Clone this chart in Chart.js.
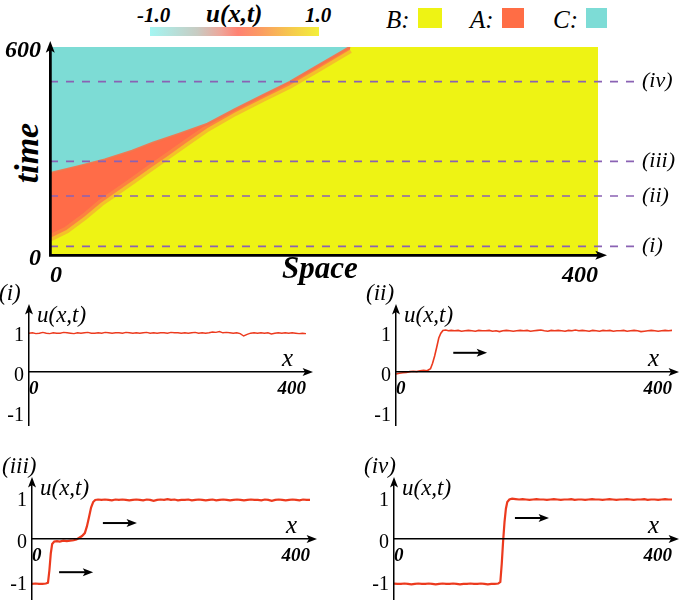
<!DOCTYPE html>
<html>
<head>
<meta charset="utf-8">
<script src="https://cdn.jsdelivr.net/npm/chart.js@4.4.1/dist/chart.umd.min.js"></script>
<style>
  body { margin: 0; background: #fff; }
  #page { position: relative; width: 685px; height: 600px; overflow: hidden; }
  canvas { position: absolute; }
  .txt { position: absolute; white-space: nowrap; line-height: 1; color: #000; font-family: "Liberation Serif", serif; }
  .sw { position: absolute; top: 8px; height: 20px; }
</style>
</head>
<body>
<div id="page">
  <!-- colour bar -->
  <div class="txt" style="left:137px;top:3px;font:bold italic 21px 'Liberation Serif'">-1.0</div>
  <div class="txt" style="left:206px;top:0px;font:bold italic 25px 'Liberation Serif'">u(x,t)</div>
  <div class="txt" style="left:305px;top:3px;font:bold italic 21px 'Liberation Serif'">1.0</div>
  <div style="position:absolute;left:150px;top:27px;width:169px;height:9px;background:linear-gradient(to right,#a4f6f2 0%,#c8cbc2 28%,#eea69a 42%,#ff8272 52%,#fb9d62 66%,#f6c64e 82%,#f3f03a 100%)"></div>

  <!-- region key -->
  <div class="txt" style="left:386px;top:6px;font:italic 25px 'Liberation Serif'">B:</div>
  <div class="sw" style="left:418px;width:24px;background:#eef314"></div>
  <div class="txt" style="left:470px;top:6px;font:italic 25px 'Liberation Serif'">A:</div>
  <div class="sw" style="left:502px;width:22px;background:#ff6d45"></div>
  <div class="txt" style="left:553px;top:6px;font:italic 25px 'Liberation Serif'">C:</div>
  <div class="sw" style="left:586px;width:21px;background:#7ddcd6"></div>

  <!-- vertical axis title of the space-time plot -->
  <div class="txt" style="left:-15px;top:136px;width:80px;height:34px;line-height:34px;text-align:center;transform:rotate(-90deg);font:bold italic 34px 'Liberation Serif'">time</div>

  <canvas id="p1" width="340" height="150" style="left:0px;top:280px"></canvas>
  <canvas id="p2" width="345" height="150" style="left:340px;top:280px"></canvas>
  <canvas id="p3" width="340" height="160" style="left:0px;top:440px"></canvas>
  <canvas id="p4" width="345" height="160" style="left:340px;top:440px"></canvas>
  <canvas id="heat" width="685" height="290" style="left:0px;top:0px"></canvas>
  <canvas id="heatAxes" width="685" height="290" style="left:0px;top:0px"></canvas>
</div>

<script>
// ---- space-time plot ----
const heatXTicks = [0, 400];
const heatTimeTicks = [0, 600];
// upper edge of state A / lower edge of state C
const cyanX = [0, 20, 40, 60, 75, 95, 115, 135, 155, 175, 195, 219];
const cyanT = [236, 255, 275, 300, 323, 350, 378, 420, 460, 499, 545, 600];
// lower edge of state A (front into state B)
const redX = [0, 12, 25, 37, 49, 61, 73, 85, 100, 115, 135, 155, 175, 195, 219];
const redT = [49, 72, 110, 150, 183, 216, 250, 283, 325, 366, 411, 451, 490, 536, 592];
const cutTimes = [25, 170, 270, 500];
const cutLabels = ["(i)", "(ii)", "(iii)", "(iv)"];

// ---- profiles ----
const profileUTicks = [-1, 0, 1];
const profileXTicks = [0, 400];

function range(a, b, step) {
  const out = [];
  for (let v = a; v <= b; v += step) out.push(v);
  return out;
}

const X_I = range(0, 400, 5);
const U_I = [0.97,0.98,0.96,0.97,0.99,0.97,0.96,0.98,0.97,0.97,0.99,0.98,0.97,0.96,0.98,0.97,0.98,0.99,0.97,0.97,
  0.98,0.97,0.99,0.98,0.97,0.98,0.98,0.97,0.99,0.98,0.97,0.98,0.97,0.98,0.99,0.97,0.98,0.97,0.98,0.98,
  0.97,0.99,0.98,0.98,0.97,0.98,0.97,0.98,0.99,0.97,0.98,0.97,0.98,1.00,0.99,1.01,0.98,0.99,0.98,0.97,
  0.98,0.96,0.90,0.94,0.97,0.98,0.97,0.98,0.97,0.98,0.95,0.97,0.98,0.97,0.98,0.97,0.98,0.97,0.96,0.97,0.96];

const X_II = range(0, 50, 5).concat([53, 56, 59, 62, 65, 68, 72, 76], range(80, 400, 5));
const U_II = [-0.05,-0.03,-0.02,-0.01,0.01,0.02,0.01,0.03,0.04,0.03,0.08,
  0.22,0.40,0.62,0.85,0.97,1.04,1.05,1.03,
  1.04,1.03,1.04,1.02,1.03,1.04,1.03,1.02,1.04,1.03,
  1.03,1.04,1.02,1.03,1.01,1.03,1.04,1.03,1.02,1.03,
  1.04,1.03,1.04,1.02,1.03,1.04,1.05,1.03,1.02,1.04,
  1.03,1.04,1.03,1.02,1.04,1.03,1.05,1.03,1.04,1.03,
  1.02,1.04,1.03,1.02,1.04,1.03,1.04,1.02,1.03,1.03,
  1.04,1.02,1.03,1.04,1.03,1.01,1.02,1.03,1.04,1.03,
  1.02,1.03,1.04,1.03,1.04];

const X_III = range(0, 20, 5).concat([23, 25, 27, 29, 32, 36, 40, 45, 50, 55, 60, 64, 68, 72, 76, 79, 82, 85, 88, 91, 95], range(100, 400, 5));
const U_III = [-1.07,-1.06,-1.07,-1.07,-1.06,-1.04,-0.75,-0.35,-0.12,-0.06,-0.05,-0.06,-0.04,-0.05,-0.04,-0.03,
  -0.01,0.03,0.07,0.14,0.30,0.52,0.75,0.88,0.93,0.94,
  0.93,0.94,0.93,0.92,0.94,0.93,0.94,0.93,0.92,0.93,
  0.94,0.93,0.92,0.94,0.93,0.91,0.93,0.94,0.93,0.95,
  0.93,0.94,0.92,0.93,0.93,0.94,0.92,0.93,0.94,0.93,
  0.92,0.93,0.94,0.92,0.93,0.94,0.93,0.92,0.93,0.94,
  0.93,0.92,0.93,0.94,0.93,0.93,0.92,0.94,0.93,0.91,
  0.93,0.94,0.93,0.92,0.93,0.94,0.93,0.92,0.94,0.93,0.93];

const X_IV = range(0, 150, 5).concat([153, 155, 157, 159, 161, 163, 166, 170], range(175, 400, 5));
const U_IV = [-1.06,-1.07,-1.07,-1.06,-1.07,-1.08,-1.07,-1.06,-1.07,-1.07,
  -1.06,-1.07,-1.08,-1.07,-1.06,-1.07,-1.07,-1.06,-1.07,-1.08,
  -1.07,-1.07,-1.06,-1.07,-1.07,-1.06,-1.07,-1.08,-1.07,-1.07,-1.06,
  -1.02,-0.60,-0.05,0.40,0.72,0.88,0.94,0.96,
  0.95,0.94,0.95,0.94,0.93,0.94,0.95,0.94,0.94,0.93,
  0.94,0.95,0.94,0.93,0.94,0.94,0.95,0.93,0.94,0.94,
  0.93,0.94,0.95,0.94,0.94,0.93,0.94,0.95,0.94,0.93,
  0.94,0.94,0.95,0.94,0.93,0.94,0.94,0.95,0.93,0.94,
  0.94,0.93,0.94,0.95,0.94,0.94];

// direction-of-motion arrows (data units)
const moveArrows = {
  p1: [],
  p2: [{ from: 83, to: 132, u: 0.48 }],
  p3: [{ from: 102, to: 151, u: 0.38 }, { from: 39, to: 88, u: -0.79 }],
  p4: [{ from: 174, to: 223, u: 0.5 }]
};

const YELLOW = "#eef314";
const RED = "#ff6c48";
const CYAN = "#7ddcd5";
const PURPLE = "#8a62b4";
const LINE_RED = "#ec3a1e";
const SERIF = "Liberation Serif";

function pts(xs, ys) {
  return xs.map((x, i) => ({ x: x, y: ys[i] }));
}

function arrowHead(ctx, x, y, dir, s) {
  ctx.beginPath();
  if (dir === "up") {
    ctx.moveTo(x, y);
    ctx.lineTo(x - s * 0.5, y + s * 1.3);
    ctx.lineTo(x, y + s);
    ctx.lineTo(x + s * 0.5, y + s * 1.3);
  } else {
    ctx.moveTo(x, y);
    ctx.lineTo(x - s * 1.3, y - s * 0.5);
    ctx.lineTo(x - s, y);
    ctx.lineTo(x - s * 1.3, y + s * 0.5);
  }
  ctx.closePath();
  ctx.fill();
}

// shared scale setup of the space-time plot
function heatScales(showTicks) {
  const font = { family: SERIF, size: 24, style: "italic", weight: "bold" };
  return {
    x: {
      type: "linear", min: 0, max: 400,
      afterBuildTicks: s => { s.ticks = heatXTicks.map(v => ({ value: v })); },
      afterFit: s => { s.height = 35; },
      grid: { display: false, drawTicks: false },
      border: { display: true, color: "#000", width: 2.5, z: 1 },
      ticks: { display: showTicks, align: "inner", padding: 6, maxRotation: 0, color: "#000", callback: v => String(v), font: font }
    },
    y: {
      type: "linear", min: 0, max: 600,
      afterBuildTicks: s => { s.ticks = heatTimeTicks.map(v => ({ value: v })); },
      afterFit: s => { s.width = 50; },
      grid: { display: false, drawTicks: false },
      border: { display: true, color: "#000", width: 2.5, z: 1 },
      ticks: { display: showTicks, padding: 9, labelOffset: 4, color: "#000", callback: v => String(v), font: font }
    }
  };
}

// ---------- axes layer of the space-time plot ----------
const axesDecor = {
  id: "axesDecor",
  afterDraw(chart) {
    const ctx = chart.ctx;
    const a = chart.chartArea;
    ctx.save();
    ctx.fillStyle = "#000";
    ctx.strokeStyle = "#000";
    ctx.lineWidth = 2.5;
    ctx.beginPath();
    ctx.moveTo(a.right, a.bottom + 0.25);
    ctx.lineTo(a.right + 4, a.bottom + 0.25);
    ctx.stroke();
    arrowHead(ctx, a.right + 9, a.bottom + 0.25, "right", 9);
    arrowHead(ctx, a.left + 0.25, a.top - 6, "up", 9);
    ctx.restore();
  }
};

new Chart(document.getElementById("heatAxes"), {
  type: "line",
  data: { datasets: [] },
  options: {
    responsive: false,
    animation: false,
    devicePixelRatio: 1,
    events: [],
    layout: { padding: { top: 47, right: 87, left: 0, bottom: 0 } },
    plugins: { legend: { display: false }, tooltip: { enabled: false } },
    scales: heatScales(false)
  },
  plugins: [axesDecor]
});

// ---------- profile charts ----------
function profileDecor(tag, arrows) {
  return {
    id: "profileDecor",
    afterDraw(chart) {
      const ctx = chart.ctx;
      const a = chart.chartArea;
      const xs = chart.scales.x;
      const ys = chart.scales.y;
      const x0 = xs.getPixelForValue(0);
      const y0 = ys.getPixelForValue(0);
      ctx.save();
      ctx.fillStyle = "#000";
      ctx.strokeStyle = "#000";
      ctx.lineWidth = 1.5;
      ctx.beginPath();
      ctx.moveTo(x0, a.top);
      ctx.lineTo(x0, a.top - 3);
      ctx.moveTo(a.right, y0);
      ctx.lineTo(a.right + 3, y0);
      ctx.stroke();
      arrowHead(ctx, x0, a.top - 6, "up", 8);
      arrowHead(ctx, a.right + 7, y0, "right", 8);

      ctx.lineWidth = 2;
      arrows.forEach(ar => {
        const py = ys.getPixelForValue(ar.u);
        const q1 = xs.getPixelForValue(ar.from);
        const q2 = xs.getPixelForValue(ar.to);
        ctx.beginPath();
        ctx.moveTo(q1, py);
        ctx.lineTo(q2 - 6, py);
        ctx.stroke();
        arrowHead(ctx, q2, py, "right", 8);
      });

      ctx.textAlign = "left";
      ctx.textBaseline = "middle";
      ctx.font = "italic 23px '" + SERIF + "'";
      ctx.fillText(tag, x0 - 30, a.top - 16);
      ctx.fillText("u(x,t)", x0 + 8, a.top + 6);
      ctx.font = "italic 25px '" + SERIF + "'";
      ctx.fillText("x", a.right - 24, y0 - 13);
      ctx.restore();
    }
  };
}

function makeProfile(id, xs, us, lineWidth, box, tag) {
  new Chart(document.getElementById(id), {
    type: "line",
    data: {
      datasets: [{ label: "u(x,t)", data: pts(xs, us), borderColor: LINE_RED, borderWidth: lineWidth,
        pointRadius: 0, fill: false, tension: 0 }]
    },
    options: {
      responsive: false,
      animation: false,
      devicePixelRatio: 1,
      layout: { padding: { top: box.top, right: box.right, left: 0, bottom: box.bottom } },
      plugins: { legend: { display: false }, tooltip: { enabled: false } },
      scales: {
        x: {
          type: "linear", min: 0, max: 400, position: { y: 0 },
          afterBuildTicks: s => { s.ticks = profileXTicks.map(v => ({ value: v })); },
          afterFit: s => {
            s.height = 0;
            s.paddingTop = 0; s.paddingBottom = 0; s.paddingLeft = 0; s.paddingRight = 0;
          },
          grid: { display: false, drawTicks: false },
          border: { display: true, color: "#000", width: 1.5, z: 1 },
          ticks: { align: "inner", padding: 6, maxRotation: 0, color: "#000", callback: v => String(v),
            font: { family: SERIF, size: 19, style: "italic", weight: "bold" } }
        },
        y: {
          type: "linear", min: box.min, max: box.max,
          afterBuildTicks: s => { s.ticks = profileUTicks.map(v => ({ value: v })); },
          afterFit: s => { s.width = box.axis; s.paddingTop = 0; s.paddingBottom = 0; },
          grid: { display: false, drawTicks: false },
          border: { display: true, color: "#000", width: 1.5, z: 1 },
          ticks: { padding: 5, labelOffset: 4, color: "#000", callback: v => String(v),
            font: { family: SERIF, size: 20 } }
        }
      }
    },
    plugins: [profileDecor(tag, moveArrows[id])]
  });
}

makeProfile("p1", X_I, U_I, 1.4, { top: 30, bottom: 5, right: 34, axis: 29, min: -1.325, max: 1.55 }, "(i)");
makeProfile("p2", X_II, U_II, 1.6, { top: 30, bottom: 5, right: 13, axis: 56, min: -1.325, max: 1.55 }, "(ii)");
makeProfile("p3", X_III, U_III, 2.2, { top: 43, bottom: 0, right: 30, axis: 32, min: -1.452, max: 1.333 }, "(iii)");
makeProfile("p4", X_IV, U_IV, 2.2, { top: 43, bottom: 0, right: 13, axis: 54, min: -1.452, max: 1.333 }, "(iv)");

// ---------- space-time chart ----------
const heatDecor = {
  id: "heatDecor",
  afterDraw(chart) {
    const ctx = chart.ctx;
    const ys = chart.scales.y;
    ctx.save();
    ctx.fillStyle = "#000";
    ctx.font = "italic 22px '" + SERIF + "'";
    ctx.textBaseline = "middle";
    ctx.textAlign = "left";
    cutTimes.forEach((t, i) => {
      ctx.fillText(cutLabels[i], 642, ys.getPixelForValue(t));
    });
    ctx.font = "bold italic 31px '" + SERIF + "'";
    ctx.fillText("Space", 282, 270);
    ctx.restore();
  }
};

const heatDatasets = [
  { label: "B", data: [{ x: 0, y: 0 }, { x: 400, y: 0 }], fill: "end", backgroundColor: YELLOW,
    borderWidth: 0, pointRadius: 0, order: 4, clip: 0 },
  { label: "A", data: pts(redX, redT), fill: "end", backgroundColor: RED,
    borderColor: "rgba(250,150,60,0.55)", borderWidth: 7, pointRadius: 0, order: 3, clip: 0 },
  { label: "C", data: pts(cyanX, cyanT), fill: "end", backgroundColor: CYAN,
    borderColor: "rgba(248,112,72,0.9)", borderWidth: 2.5, pointRadius: 0, order: 2, clip: 0 }
];
cutTimes.forEach(t => {
  heatDatasets.push({
    label: "cut", data: [{ x: 0, y: t }, { x: 427, y: t }], fill: false,
    borderColor: PURPLE, borderWidth: 1.6, borderDash: [8, 8], pointRadius: 0, order: 1, clip: false
  });
});

new Chart(document.getElementById("heat"), {
  type: "line",
  data: { datasets: heatDatasets },
  options: {
    responsive: false,
    animation: false,
    devicePixelRatio: 1,
    layout: { padding: { top: 47, right: 87, left: 0, bottom: 0 } },
    plugins: { legend: { display: false }, tooltip: { enabled: false } },
    scales: heatScales(true)
  },
  plugins: [heatDecor]
});
</script>
</body>
</html>
